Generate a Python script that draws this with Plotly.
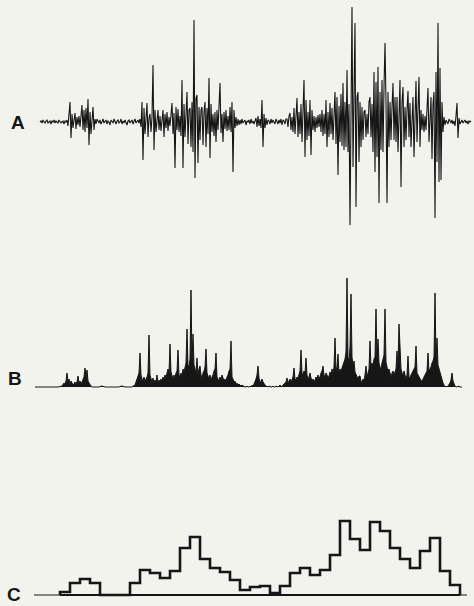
import plotly.graph_objects as go

# ---------------- Trace A: raw signal (deflection, arbitrary units) ----------------
a_seg_starts = [40, 67, 96, 140, 170, 200, 230, 240, 287, 320, 350, 370, 400, 445]
a_end = 472
a_quiet1 = [0, 1, -1, 2, 0, -1, 1, 2, -1, 0, 1, -2, 1, 0, 2, -1, 1, 0, -1, 2, 1, -1, 0, 1, -2, 1, 0]
a_burst1 = [2, -4, 6, 20, -16, 8, -6, 4, 9, -7, 5, -3, 6, -5, 10, 17, -8, 12, -10, 14, -6, 23, -23, 10, -12, 6, 15, -8, 3]
a_quiet2 = [-2, 3, 1, -1, 2, -2, 0, 3, -1, 1, 2, -2, 1, 0, -3, 2, 1, -1, 3, 0, -2, 1, 2, -1, 0, 3, -2, 1, -1, 2, 0, -3, 1, 2, -1, 0, 2, -2, 1, 3, -1, 0, 2, -1]
a_burst2a = [3, -5, 20, -38, 14, -12, 6, 19, -15, 4, 8, -10, 5, 57, -28, 12, -10, 4, 12, -8, 6, -9, 3, 12, -15, 8, -6, 10, -9, 5]
a_burst2b = [-4, 8, 19, -12, 9, -46, 15, -8, 13, -10, 6, -14, 42, -46, 18, -15, 10, 30, -22, 12, 14, -25, 20, -30, 102, -56, 24, 27, -41, 15]
a_burst2c = [-18, 12, 15, -23, 10, 20, -25, 14, -12, 44, -36, 18, -10, 8, -14, 10, -20, 12, -8, 15, 39, -11, 8, -20, 10, -7, 12, -9, 6, -8]
a_burst2d = [15, -10, 20, -50, 12, -6, 5, -4, 3, -3]
a_quiet3 = [2, -2, 3, -1, 1, 2, -3, 1, 0, 2, -2, 3, -1, 1, -2, 2, 4, -5, 6, -4, 3, -6, 22, -25, 8, -6, 4, -3, 2, 1, -2, 3, -1, 2, 0, -2, 3, 1, -2, 2, -1, 3, -3, 2, 1, -2, 3]
a_burst3a = [3, -5, 6, 9, -8, 5, -10, 14, -12, 8, 24, -15, 10, -12, 18, -20, 12, 42, -35, 22, -18, 10, -14, 22, -33, 12, -8, 6, -10, 5, -6, 7, -5]
a_burst3b = [8, -10, 12, -14, 8, -12, 22, -25, 10, -15, 19, -12, 14, -18, 20, 30, -22, 25, -53, 16, -20, 28, -24, 39, -28, 20, -25, 52, -30, 18]
a_burst3c = [-103, 40, 115, -45, 35, 99, -85, 25, 30, -40, 20, -25, 15, -18, 10, 12, -15, 8, -12, 20]
a_burst3d = [25, -15, 18, -30, 50, -50, 40, -35, 55, -81, 30, -28, 42, -30, 35, 79, 20, -81, 30, -25, 20, -18, 15, 39, -18, 25, -20, 25, -30, 20]
a_burst3e = [42, -65, 20, 35, -25, 15, -18, 12, 31, -15, 19, -25, 15, 25, -35, 20, 41, -20, 15, 45, -25, 12, -8, 8, -10, 6, -8, 12, 34, -20, 15, 25, -37, 18, 30, -96, 50, -40, 99, -60, 54, -58, 20, -10, 5]
a_quiet4 = [-3, 2, 0, -2, 3, 1, -1, 2, -2, 1, -4, 6, 19, -16, 4, -2, 1, 2, -1, 0, 2, -1, 1, -2, 1, 0, 1]
a_segments = [a_quiet1, a_burst1, a_quiet2, a_burst2a, a_burst2b, a_burst2c, a_burst2d,
              a_quiet3, a_burst3a, a_burst3b, a_burst3c, a_burst3d, a_burst3e, a_quiet4]

# ---------------- Trace B: rectified signal ----------------
b_seg_starts = [35, 62, 92, 135, 170, 200, 245, 285, 320, 360, 400, 445]
b_end = 462
b_quiet1 = [0, 0, 0, 0, 0, 0, 0]
b_burst1 = [1, 2, 4, 3, 6, 14, 5, 8, 3, 6, 4, 2, 3, 5, 3, 5, 11, 4, 6, 3, 5, 8, 10, 19, 9, 17, 6, 4, 2, 1]
b_quiet2 = [0, 0, 0, 1, 0, 0, 0, 0, 0, 1, 0, 0, 0]
b_burst2a = [2, 5, 8, 10, 14, 34, 12, 8, 6, 10, 5, 8, 10, 14, 52, 12, 8, 5, 9, 4, 7, 5, 12, 4, 7, 5, 8, 6, 10, 7, 12, 9, 14, 18, 14]
b_burst2b = [43, 15, 10, 8, 12, 9, 14, 16, 37, 12, 10, 14, 12, 18, 15, 20, 24, 58, 22, 20, 28, 97, 25, 53, 22, 18, 15, 29, 12, 18]
b_burst2c = [21, 12, 8, 14, 16, 20, 38, 14, 10, 8, 12, 7, 10, 12, 16, 18, 34, 10, 8, 6, 10, 7, 12, 9, 6, 8, 5, 10, 12, 16, 18, 46, 10, 8, 5, 6, 3, 4, 2, 3, 2, 1, 2, 1, 0]
b_quiet3 = [0, 0, 1, 0, 0, 1, 0, 2, 1, 3, 5, 8, 12, 21, 9, 4, 6, 8, 5, 3, 2, 1, 0, 0, 1, 0, 0, 0, 1, 0, 0, 1, 0, 0, 1, 2, 1, 0, 2, 3]
b_burst3a = [3, 5, 9, 4, 6, 8, 5, 7, 10, 19, 8, 7, 10, 9, 12, 16, 37, 14, 12, 16, 14, 29, 12, 8, 10, 14, 9, 6, 8, 5, 7, 10, 8, 12, 9]
b_burst3b = [10, 14, 16, 21, 12, 10, 14, 12, 9, 11, 15, 12, 18, 14, 20, 49, 16, 20, 33, 14, 18, 16, 20, 22, 25, 28, 35, 109, 30, 25, 40, 93, 30, 22, 26, 15, 12, 10, 8, 11]
b_burst3c = [11, 6, 4, 8, 6, 12, 21, 10, 14, 18, 46, 20, 24, 22, 28, 30, 78, 26, 48, 24, 20, 18, 24, 28, 32, 78, 25, 20, 16, 18, 12, 10, 14, 16, 12, 15, 18, 36, 22, 63]
b_burst3d = [30, 18, 14, 12, 16, 10, 8, 12, 31, 10, 9, 12, 14, 16, 18, 20, 41, 14, 12, 10, 8, 6, 5, 8, 10, 12, 14, 16, 34, 16, 18, 20, 24, 26, 30, 94, 28, 49, 22, 18, 14, 10, 8, 4, 2]
b_quiet4 = [0, 1, 0, 1, 2, 4, 7, 14, 6, 3, 1, 0, 0, 1, 0, 0, 0]
b_segments = [b_quiet1, b_burst1, b_quiet2, b_burst2a, b_burst2b, b_burst2c, b_quiet3,
              b_burst3a, b_burst3b, b_burst3c, b_burst3d, b_quiet4]

# ---------------- Trace C: histogram of activity ----------------
c_first_edge = 60
c_bin_width = 10
c_counts = [3, 12, 16, 12, 0, 0, 0, 12, 25, 22, 17, 24, 47, 58, 36, 27, 23, 15, 5, 8,
            9, 2, 9, 22, 27, 20, 25, 40, 74, 56, 45, 73, 64, 47, 36, 27, 44, 57, 24, 10]
c_axis_start = 34
c_axis_end = 467

labels = ["A", "B", "C"]

INK = "#161616"
PAPER = "#f3f3ed"


def build(starts, end, segments):
    xs, ys = [], []
    bounds = list(starts) + [end]
    for k, vals in enumerate(segments):
        s, e = bounds[k], bounds[k + 1]
        step = (e - s) / len(vals)
        xs += [s + i * step for i in range(len(vals))]
        ys += list(vals)
    return xs, ys


ax, ay = build(a_seg_starts, a_end, a_segments)
bx, by = build(b_seg_starts, b_end, b_segments)
bx = bx + [b_end]
by = by + [0]

edges = [c_first_edge + c_bin_width * k for k in range(len(c_counts) + 1)]
cx = [edges[0]] + edges[:-1] + [edges[-1]]
cy = [0] + c_counts + [0]

fig = go.Figure()
fig.add_trace(go.Scatter(x=ax, y=ay, mode="lines", yaxis="y",
                         line=dict(color=INK, width=1.1), hoverinfo="skip"))
fig.add_trace(go.Scatter(x=bx, y=by, mode="lines", yaxis="y2", fill="tozeroy",
                         fillcolor=INK, line=dict(color=INK, width=1.0), hoverinfo="skip"))
fig.add_trace(go.Scatter(x=[c_axis_start, c_axis_end], y=[0, 0], mode="lines", yaxis="y3",
                         line=dict(color=INK, width=1.0), hoverinfo="skip"))
fig.add_trace(go.Scatter(x=[edges[0], edges[-1]], y=[0, 0], mode="lines", yaxis="y3",
                         line=dict(color=INK, width=2.2), hoverinfo="skip"))
fig.add_trace(go.Scatter(x=cx, y=cy, mode="lines", yaxis="y3", line_shape="hv",
                         line=dict(color=INK, width=2.6), hoverinfo="skip"))

H = 606.0
def dom(top_px, bot_px):
    return [1 - bot_px / H, 1 - top_px / H]

hidden = dict(visible=False, showgrid=False, zeroline=False, fixedrange=True)
fig.update_layout(
    width=474, height=606,
    margin=dict(l=0, r=0, t=0, b=0),
    paper_bgcolor=PAPER, plot_bgcolor=PAPER,
    showlegend=False,
    xaxis=dict(range=[0, 474], domain=[0, 1], **hidden),
    yaxis=dict(domain=dom(2, 242), range=[-120, 120], anchor="x", **hidden),
    yaxis2=dict(domain=dom(267, 391), range=[-4, 120], anchor="x", **hidden),
    yaxis3=dict(domain=dom(495, 600), range=[-5, 100], anchor="x", **hidden),
)

label_y = [(1 - 123 / H), (1 - 378 / H), 0.0]
label_x = [18, 15, 14]
label_anchor = ["middle", "middle", "bottom"]
for txt, lx, ly, anc in zip(labels, label_x, label_y, label_anchor):
    fig.add_annotation(text=f"<b>{txt}</b>", x=lx / 474, y=ly, xref="paper", yref="paper",
                       showarrow=False, font=dict(family="Liberation Sans, Arial, sans-serif",
                                                  size=19, color=INK),
                       xanchor="center", yanchor=anc, borderpad=0)

fig.write_html("out.html", config=dict(displayModeBar=False),
               post_script="document.body.style.margin='0';document.body.style.overflow='hidden';document.body.style.background='#f3f3ed';")
